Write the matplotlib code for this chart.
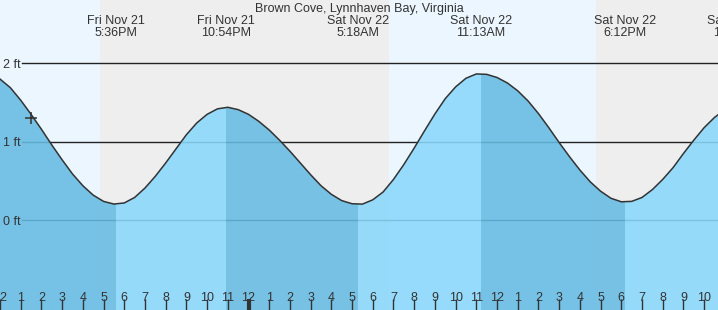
import numpy as np
import matplotlib.pyplot as plt
import matplotlib.transforms as mtransforms
from matplotlib.patches import Rectangle

# ----- Datos -----
# horas contadas desde la medianoche del viernes 21 de noviembre
TITULO = 'Brown Cove, Lynnhaven Bay, Virginia'

horas = [12.0, 12.5, 13.0, 13.5, 14.0, 14.5, 15.0, 15.5, 16.0, 16.5, 17.0, 17.5,
         18.0, 18.5, 19.0, 19.5, 20.0, 20.5, 21.0, 21.5, 22.0, 22.5, 23.0, 23.5,
         24.0, 24.5, 25.0, 25.5, 26.0, 26.5, 27.0, 27.5, 28.0, 28.5, 29.0, 29.5,
         30.0, 30.5, 31.0, 31.5, 32.0, 32.5, 33.0, 33.5, 34.0, 34.5, 35.0, 35.5,
         36.0, 36.5, 37.0, 37.5, 38.0, 38.5, 39.0, 39.5, 40.0, 40.5, 41.0, 41.5,
         42.0, 42.5, 43.0, 43.5, 44.0, 44.5, 45.0, 45.5, 46.0, 46.5, 47.0]
altura = [1.80, 1.69, 1.53, 1.35, 1.16, 0.96, 0.77, 0.59, 0.44, 0.32, 0.24, 0.206,
          0.22, 0.29, 0.41, 0.56, 0.73, 0.91, 1.09, 1.24, 1.35, 1.42, 1.44, 1.41,
          1.35, 1.26, 1.15, 1.02, 0.88, 0.73, 0.58, 0.44, 0.33, 0.25, 0.21, 0.205,
          0.26, 0.36, 0.52, 0.71, 0.92, 1.14, 1.355, 1.55, 1.70, 1.81, 1.865, 1.86,
          1.82, 1.75, 1.65, 1.52, 1.36, 1.18, 0.99, 0.81, 0.64, 0.49, 0.37, 0.28,
          0.235, 0.24, 0.29, 0.39, 0.52, 0.67, 0.85, 1.02, 1.18, 1.31, 1.41]

# mareas extremas (hora, etiqueta, tipo)
extremos_hora = [17.6, 22.9, 29.3, 35.2167, 42.2, 47.62]
extremos_tipo = ['L', 'H', 'L', 'H', 'L', 'H']
extremos_txt = ['Fri Nov 21\n5:36PM', 'Fri Nov 21\n10:54PM', 'Sat Nov 22\n5:18AM',
                'Sat Nov 22\n11:13AM', 'Sat Nov 22\n6:12PM', 'Sat Nov 22\n11:37PM']

# puesta / salida del sol
sol_cambios = [16.82, 30.80, 40.80]

# hora actual
ahora_h = 13.52
ahora_v = 1.30

NIVELES = [0, 1, 2]
ETIQ_NIVELES = ['0 ft', '1 ft', '2 ft']

# ----- Estilo -----
X_MIN, X_MAX = 12.15, 46.67
Y_MIN, Y_MAX = -1.145, 2.808
C_DIA = '#ebf6fe'
C_NOCHE = '#eeeeee'
C_BAJA = '#66bbe3'
C_SUBE = '#8ad8fc'
C_TEXTO = '#333333'
plt.rcParams['font.family'] = ['Liberation Sans', 'DejaVu Sans']

fig = plt.figure(figsize=(7.18, 3.10), dpi=100)
ax = fig.add_axes([0, 0, 1, 1])
ax.set_xlim(X_MIN, X_MAX)
ax.set_ylim(Y_MIN, Y_MAX)
ax.set_axisbelow(False)

tr_x = mtransforms.blended_transform_factory(ax.transData, ax.transAxes)
tr_y = mtransforms.blended_transform_factory(ax.transAxes, ax.transData)

# fondo dia / noche
bordes_sol = [horas[0]] + sol_cambios + [horas[-1]]
for i in range(len(bordes_sol) - 1):
    color = C_DIA if i % 2 == 0 else C_NOCHE
    ax.axvspan(bordes_sol[i], bordes_sol[i + 1], color=color, lw=0, zorder=0)

# lineas de nivel
for nivel, txt in zip(NIVELES, ETIQ_NIVELES):
    ax.axhline(nivel, xmin=22 / 718, xmax=1, color='#222222', lw=1, zorder=1)
    ax.text(3 / 718, nivel, txt, transform=mtransforms.offset_copy(tr_y, fig, y=-1.5, units='dots'),
            ha='left', va='center', fontsize=9, color=C_TEXTO)

# relleno de la marea (bajando oscuro, subiendo claro)
bordes = [horas[0]] + extremos_hora
for i in range(len(bordes) - 1):
    bajando = extremos_tipo[i] == 'L'
    color = C_BAJA if bajando else C_SUBE
    relleno = ax.fill_between(horas, altura, Y_MIN - 1, color=color, alpha=0.88, lw=0, zorder=2)
    rect = Rectangle((bordes[i], Y_MIN - 1), bordes[i + 1] - bordes[i], Y_MAX - Y_MIN + 2,
                     transform=ax.transData)
    relleno.set_clip_path(rect)

ax.plot(horas, altura, color='#333333', lw=1.1, zorder=3, solid_joinstyle='round')
ax.plot([ahora_h], [ahora_v], marker='+', ms=9, mew=1.1, color='#333333', zorder=4)

# etiquetas de los extremos y titulo
for h, txt in zip(extremos_hora, extremos_txt):
    l1, l2 = txt.split('\n')
    ax.text(h, 1 - 21 / 310, l1, transform=tr_x, ha='center', va='center',
            fontsize=9, color=C_TEXTO, clip_on=False)
    ax.text(h, 1 - 33 / 310, l2, transform=tr_x, ha='center', va='center',
            fontsize=9, color=C_TEXTO, clip_on=False)
ax.text(0.5, 1 - 9 / 310, TITULO, transform=ax.transAxes, ha='center', va='center',
        fontsize=9, color=C_TEXTO)

# eje de horas dentro del grafico
horas_tick = np.arange(12, 47)
ax.set_xticks(horas_tick)
ax.tick_params(axis='x', direction='in', length=8, width=1, color=C_TEXTO, labelbottom=False)
ax.set_yticks([])
for h, tick in zip(horas_tick, ax.xaxis.get_major_ticks()):
    etiqueta = str(int(h - 1) % 12 + 1)
    ax.text(h, 12 / 310, etiqueta, transform=tr_x, ha='center', va='center',
            fontsize=9, color=C_TEXTO)
    if h % 24 == 0:
        tick.tick1line.set_markeredgewidth(3)

for lado in ax.spines.values():
    lado.set_visible(False)

plt.savefig('out.png', dpi=100)
